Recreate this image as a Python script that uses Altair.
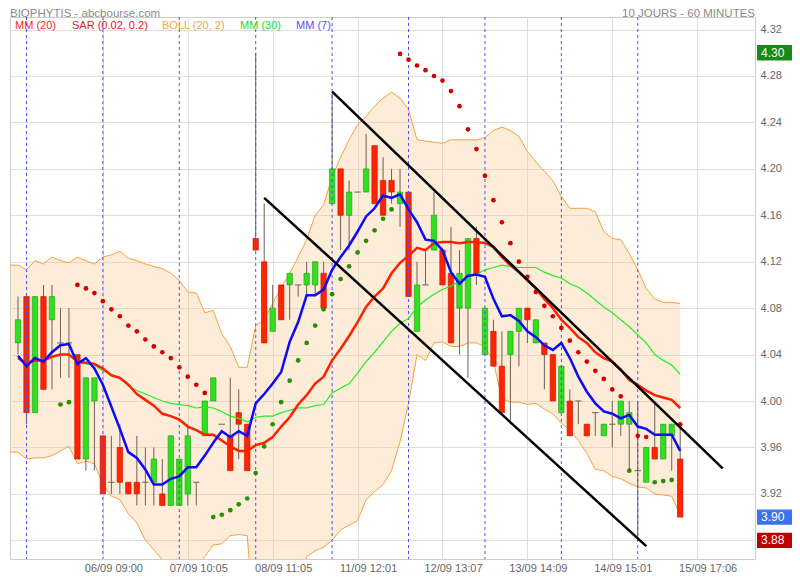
import altair as alt
import pandas as pd

# ---------------- data ----------------
OPEN = [4.05, 4.09, 3.99, 4.09, 4.07, 4.05, 4.05, 4.04, 3.95, 4.00,
        3.97, 3.93, 3.96, 3.93, 3.93, 3.93, 3.93, 3.92, 3.91, 3.91,
        3.92, 3.93, 3.97, 4.00, 3.98, 3.97, 3.99, 3.98, 4.14, 4.12,
        4.06, 4.10, 4.10, 4.10, 4.10, 4.10, 4.11, 4.17, 4.20, 4.16,
        4.18, 4.18, 4.22, 4.19, 4.19, 4.17, 4.18, 4.06, 4.10, 4.13,
        4.13, 4.11, 4.08, 4.08, 4.14, 4.04, 4.06, 4.03, 4.04, 4.06,
        4.08, 4.05, 4.05, 4.04, 3.99, 4.00, 4.00, 3.98, 3.99, 3.97,
        3.98, 3.98, 3.98, 3.94, 3.93, 3.96, 3.95, 3.97, 3.95]
HIGH = [4.09, 4.09, 4.09, 4.10, 4.10, 4.08, 4.08, 4.04, 4.02, 4.02,
        3.97, 3.97, 3.98, 3.93, 3.97, 3.96, 3.96, 3.95, 3.97, 3.95,
        3.98, 3.93, 4.00, 4.02, 3.98, 4.02, 4.01, 3.98, 4.30, 4.17,
        4.10, 4.10, 4.11, 4.10, 4.12, 4.12, 4.12, 4.265, 4.20, 4.19,
        4.18, 4.23, 4.22, 4.21, 4.20, 4.20, 4.18, 4.12, 4.13, 4.18,
        4.13, 4.15, 4.13, 4.14, 4.15, 4.08, 4.07, 4.06, 4.06, 4.08,
        4.08, 4.07, 4.05, 4.04, 4.03, 4.01, 4.00, 3.98, 3.99, 3.98,
        4.00, 4.00, 4.00, 4.00, 3.96, 4.00, 3.98, 3.98, 3.98]
LOW = [4.04, 3.98, 3.99, 4.01, 4.01, 4.02, 4.02, 3.95, 3.94, 3.94,
       3.92, 3.92, 3.92, 3.92, 3.91, 3.91, 3.91, 3.91, 3.91, 3.91,
       3.91, 3.91, 3.97, 4.00, 3.98, 3.94, 3.95, 3.94, 4.13, 4.05,
       4.06, 4.07, 4.07, 4.09, 4.09, 4.09, 4.08, 4.17, 4.13, 4.13,
       4.18, 4.18, 4.17, 4.16, 4.17, 4.15, 4.09, 4.06, 4.10, 4.13,
       4.10, 4.05, 4.04, 4.02, 4.10, 4.04, 4.03, 3.99, 3.98, 4.03,
       4.05, 4.05, 4.01, 4.00, 3.99, 3.97, 3.98, 3.97, 3.97, 3.97,
       3.96, 3.97, 3.94, 3.88, 3.93, 3.95, 3.95, 3.94, 3.90]
CLOSE = [4.07, 3.99, 4.09, 4.01, 4.09, 4.05, 4.05, 3.95, 4.02, 4.02,
         3.92, 3.93, 3.93, 3.92, 3.92, 3.93, 3.95, 3.91, 3.97, 3.95,
         3.97, 3.93, 4.00, 4.02, 3.98, 3.94, 3.98, 3.94, 4.13, 4.05,
         4.08, 4.07, 4.11, 4.10, 4.11, 4.12, 4.08, 4.20, 4.16, 4.18,
         4.18, 4.20, 4.17, 4.16, 4.18, 4.18, 4.09, 4.10, 4.10, 4.16,
         4.10, 4.05, 4.11, 4.14, 4.11, 4.08, 4.03, 3.99, 4.06, 4.08,
         4.07, 4.07, 4.04, 4.00, 4.03, 3.97, 4.00, 3.97, 3.99, 3.98,
         3.98, 4.00, 3.99, 3.94, 3.96, 3.95, 3.98, 3.98, 3.90]

MM7 = [4.039, 4.030, 4.037, 4.034, 4.042, 4.048, 4.049, 4.032, 4.037, 4.028,
       4.014, 3.995, 3.976, 3.956, 3.951, 3.941, 3.928, 3.928, 3.933, 3.935,
       3.943, 3.943, 3.953, 3.964, 3.974, 3.969, 3.974, 3.970, 3.998, 4.006,
       4.015, 4.025, 4.051, 4.068, 4.091, 4.091, 4.096, 4.113, 4.124, 4.134,
       4.146, 4.159, 4.166, 4.177, 4.175, 4.178, 4.165, 4.154, 4.139, 4.138,
       4.130, 4.111, 4.101, 4.108, 4.109, 4.107, 4.088, 4.073, 4.074, 4.069,
       4.060, 4.055, 4.048, 4.044, 4.050, 4.037, 4.021, 4.008, 3.998, 3.991,
       3.989, 3.985, 3.988, 3.978, 3.976, 3.971, 3.971, 3.971, 3.957]
MM20 = [4.037, 4.032, 4.035, 4.035, 4.038, 4.040, 4.040, 4.034, 4.033, 4.032,
        4.028, 4.022, 4.020, 4.014, 4.006, 4.001, 3.996, 3.989, 3.987, 3.984,
        3.978, 3.975, 3.971, 3.971, 3.966, 3.961, 3.957, 3.957, 3.962, 3.964,
        3.969, 3.978, 3.986, 3.997, 4.005, 4.015, 4.021, 4.035, 4.045, 4.056,
        4.068, 4.081, 4.090, 4.097, 4.110, 4.119, 4.125, 4.132, 4.130, 4.136,
        4.137, 4.137, 4.136, 4.137, 4.137, 4.136, 4.133, 4.124, 4.117, 4.111,
        4.104, 4.097, 4.088, 4.080, 4.070, 4.063, 4.055, 4.050, 4.042, 4.037,
        4.034, 4.027, 4.018, 4.014, 4.009, 4.005, 4.003, 4.001, 3.994]
MM30 = [4.038, 4.031, 4.035, 4.036, 4.039, 4.040, 4.040, 4.033, 4.032, 4.031,
        4.026, 4.023, 4.020, 4.013, 4.009, 4.006, 4.003, 4.000, 3.998, 3.997,
        3.996, 3.994, 3.995, 3.994, 3.991, 3.987, 3.985, 3.982, 3.986, 3.987,
        3.987, 3.990, 3.992, 3.994, 3.994, 3.996, 3.997, 4.007, 4.011, 4.015,
        4.024, 4.034, 4.042, 4.051, 4.060, 4.067, 4.071, 4.081, 4.087, 4.092,
        4.096, 4.099, 4.103, 4.107, 4.109, 4.113, 4.115, 4.117, 4.116, 4.115,
        4.115, 4.115, 4.111, 4.108, 4.106, 4.101, 4.098, 4.093, 4.087, 4.081,
        4.076, 4.070, 4.064, 4.057, 4.050, 4.040, 4.035, 4.031, 4.023]

# Bollinger bands, starting one bar before the first candle (index -1)
BOLL_UP = [4.117, 4.117, 4.113, 4.121, 4.118, 4.124, 4.121, 4.119, 4.124, 4.121, 4.118,
           4.124, 4.126, 4.129, 4.123, 4.121, 4.118, 4.116, 4.114, 4.110, 4.104,
           4.094, 4.093, 4.076, 4.078, 4.058, 4.047, 4.029, 4.029, 4.065, 4.070,
           4.084, 4.098, 4.110, 4.124, 4.139, 4.160, 4.169, 4.193, 4.210, 4.225,
           4.238, 4.245, 4.254, 4.261, 4.266, 4.261, 4.251, 4.225, 4.224, 4.223,
           4.222, 4.225, 4.225, 4.225, 4.225, 4.227, 4.233, 4.236, 4.233, 4.228,
           4.215, 4.206, 4.198, 4.190, 4.176, 4.166, 4.166, 4.166, 4.163, 4.146,
           4.140, 4.139, 4.127, 4.113, 4.097, 4.088, 4.085, 4.085, 4.084]
BOLL_LOW = [3.956, 3.956, 3.950, 3.951, 3.951, 3.953, 3.957, 3.961, 3.946, 3.948, 3.946,
            3.928, 3.918, 3.915, 3.903, 3.895, 3.880, 3.872, 3.863, 3.856, 3.852,
            3.852, 3.856, 3.866, 3.876, 3.877, 3.884, 3.885, 3.884, 3.790, 3.760,
            3.760, 3.770, 3.790, 3.820, 3.866, 3.871, 3.874, 3.880, 3.889, 3.893,
            3.897, 3.915, 3.922, 3.928, 3.940, 3.965, 3.998, 4.040, 4.035, 4.050,
            4.051, 4.047, 4.047, 4.050, 4.050, 4.047, 4.034, 4.002, 3.999, 3.999,
            3.997, 3.998, 3.993, 3.989, 3.981, 3.975, 3.966, 3.955, 3.941, 3.940,
            3.935, 3.933, 3.929, 3.926, 3.925, 3.920, 3.919, 3.918, 3.902]

# Parabolic SAR, from bar 5 on ("r" = above price, "g" = below price)
SAR_START = 5
SAR = [3.997, 3.999, 4.100, 4.097, 4.093, 4.086, 4.079, 4.073, 4.065, 4.060,
       4.053, 4.047, 4.042, 4.037, 4.029, 4.021, 4.014, 4.007, 3.900, 3.902,
       3.906, 3.911, 3.916, 3.938, 3.961, 3.980, 3.999, 4.0175, 4.035, 4.050,
       4.065, 4.079, 4.092, 4.105, 4.116, 4.128, 4.138, 4.147, 4.157, 4.165,
       4.299, 4.294, 4.289, 4.285, 4.280, 4.276, 4.267, 4.254, 4.234, 4.217,
       4.194, 4.173, 4.154, 4.136, 4.120, 4.107, 4.094, 4.082, 4.073, 4.063,
       4.052, 4.042, 4.034, 4.026, 4.019, 4.010, 4.004, 3.940, 3.970, 3.969,
       3.930, 3.931, 3.932, 3.980]
SAR_SIDE = ("gg" + "r" * 16 + "g" * 22 + "r" * 27 + "g" + "rr" + "ggg" + "r")

DAY_STARTS = [1, 10, 19, 28, 37, 46, 55, 64, 73]
X_TICKS = [10, 20, 30, 40, 50, 60, 70, 80]
X_LABELS = ["06/09 09:00", "07/09 10:05", "08/09 11:05", "11/09 12:01",
            "12/09 13:07", "13/09 14:09", "14/09 15:01", "15/09 17:06"]
Y_TICKS = [3.88, 3.92, 3.96, 4.00, 4.04, 4.08, 4.12, 4.16, 4.20, 4.24, 4.28, 4.32]

# drawn trend lines: (bar start, price start, bar end, price end)
TREND_I1 = [37, 29]
TREND_P1 = [4.2665, 4.175]
TREND_I2 = [83.0, 74.0]
TREND_P2 = [3.942, 3.875]

MARK_VALUES = [4.30, 3.90, 3.88]
MARK_COLORS = ["#168c16", "#3b72f0", "#bf0000"]

LEGEND_TEXT = ["MM (20)", "SAR (0.02, 0.2)", "BOLL (20, 2)", "MM (30)", "MM (7)"]
LEGEND_COLOR = ["#f02a2a", "#d81e1e", "#f5a545", "#22dd22", "#5252f2"]
LEGEND_X = [5, 62, 152, 230, 286]

# ---------------- tables ----------------
N = len(OPEN)
candles = pd.DataFrame({"i": list(range(N)), "o": OPEN, "h": HIGH, "l": LOW, "c": CLOSE})
candles["kind"] = ["doji" if abs(o - c) < 1e-9 else ("up" if c > o else "down")
                   for o, c in zip(OPEN, CLOSE)]
ma = pd.DataFrame({"i": list(range(N)), "m7": MM7, "m20": MM20, "m30": MM30})
band = pd.DataFrame({"i": list(range(-1, N)), "up": BOLL_UP, "lo": BOLL_LOW})
sar = pd.DataFrame({"i": list(range(SAR_START, SAR_START + len(SAR))), "v": SAR,
                    "side": list(SAR_SIDE)})
days = pd.DataFrame({"i": DAY_STARTS})
trends = pd.DataFrame({"i": TREND_I1, "v": TREND_P1, "i2": TREND_I2, "v2": TREND_P2})
marks = pd.DataFrame({"v": MARK_VALUES, "col": MARK_COLORS,
                      "lab": [f"{v:.2f}" for v in MARK_VALUES]})

FONT = "Liberation Sans"
xs = alt.Scale(domain=[-0.942, 86.81], nice=False, zero=False)
ys = alt.Scale(domain=[3.8639, 4.3308], nice=False, zero=False)

label_expr = "".join(f"datum.value == {p} ? '{s}' : " for p, s in zip(X_TICKS, X_LABELS)) + "''"
x_axis = alt.Axis(values=X_TICKS, labelExpr=label_expr, grid=True, gridColor="#dddddd",
                  ticks=False, domain=False, labelOffset=10.5, labelPadding=3,
                  labelFont=FONT, labelFontSize=11, labelColor="#666666",
                  labelFlush=False, labelOverlap=False, title=None)
y_axis = alt.Axis(orient="right", values=Y_TICKS, grid=True, gridColor="#dddddd",
                  labelExpr="datum.value < 3.9 ? '' : format(datum.value, '.2f')",
                  ticks=False, domain=False, labelPadding=5, labelFont=FONT, labelFontSize=11,
                  labelColor="#666666", labelOverlap=False, title=None)


def X(f="i"):
    return alt.X(f"{f}:Q", scale=xs, axis=x_axis)


def Y(f):
    return alt.Y(f"{f}:Q", scale=ys, axis=y_axis)


layers = []

# Bollinger band
layers.append(alt.Chart(band).mark_area(clip=True, color="#f8c98e", opacity=0.35)
              .encode(x=X(), y=Y("up"), y2="lo:Q"))
for f in ["up", "lo"]:
    layers.append(alt.Chart(band).mark_line(clip=True, color="#f5a23c", strokeWidth=1)
                  .encode(x=X(), y=Y(f)))

# candles
layers.append(alt.Chart(candles).mark_rule(color="#6e6052", strokeWidth=1)
              .encode(x=X(), y=Y("l"), y2="h:Q"))
for kind, fill, stroke in [("up", "#2fe01f", "#1f9a12"), ("down", "#ff2400", "#c21000")]:
    layers.append(alt.Chart(candles).transform_filter(f"datum.kind == '{kind}'")
                  .transform_calculate(xa="datum.i - 0.32", xb="datum.i + 0.32")
                  .mark_rect(fill=fill, stroke=stroke, strokeWidth=0.6)
                  .encode(x=X("xa"), x2="xb:Q", y=Y("o"), y2="c:Q"))
layers.append(alt.Chart(candles).transform_filter("datum.kind == 'doji'")
              .transform_calculate(xa="datum.i - 0.38", xb="datum.i + 0.38")
              .mark_rule(color="#6e6052", strokeWidth=1)
              .encode(x=X("xa"), x2="xb:Q", y=Y("c")))

# day separators
layers.append(alt.Chart(days).mark_rule(color="#4f4fff", strokeDash=[3, 3], strokeWidth=1)
              .encode(x=X()))

# SAR dots
layers.append(alt.Chart(sar).mark_circle(size=22, opacity=1)
              .encode(x=X(), y=Y("v"),
                      color=alt.Color("side:N", scale=alt.Scale(domain=["r", "g"],
                                                                range=["#d40000", "#2a8c00"]),
                                      legend=None)))

# moving averages
layers.append(alt.Chart(ma).mark_line(color="#22ee22", strokeWidth=1.2).encode(x=X(), y=Y("m30")))
layers.append(alt.Chart(ma).mark_line(color="#ff2000", strokeWidth=2.5).encode(x=X(), y=Y("m20")))
layers.append(alt.Chart(ma).mark_line(color="#0a0aff", strokeWidth=2.5).encode(x=X(), y=Y("m7")))

# trend lines
layers.append(alt.Chart(trends).mark_rule(color="#000000", strokeWidth=2.5)
              .encode(x=X(), x2="i2:Q", y=Y("v"), y2="v2:Q"))

# price boxes at the right
layers.append(alt.Chart(marks).transform_calculate(vt="datum.v + 0.0066", vb="datum.v - 0.0066")
              .mark_rect()
              .encode(x=alt.value(747), x2=alt.value(782), y=Y("vt"), y2="vb:Q",
                      color=alt.Color("col:N", scale=None)))
layers.append(alt.Chart(marks).mark_text(align="left", baseline="middle", color="white",
                                         font=FONT, fontSize=12)
              .encode(x=alt.value(751), y=Y("v"), text="lab:N"))

# header texts
one = alt.Data(values=[{"k": 1}])
layers.append(alt.Chart(one).mark_text(align="left", baseline="alphabetic", font=FONT,
                                       fontSize=11.5, color="#8a8a8a")
              .encode(x=alt.value(0), y=alt.value(-0.5),
                      text=alt.value("BIOPHYTIS - abcbourse.com")))
layers.append(alt.Chart(one).mark_text(align="right", baseline="alphabetic", font=FONT,
                                       fontSize=11.5, color="#8a8a8a")
              .encode(x=alt.value(745), y=alt.value(-0.5),
                      text=alt.value("10 JOURS - 60 MINUTES")))
for t, c, px in zip(LEGEND_TEXT, LEGEND_COLOR, LEGEND_X):
    layers.append(alt.Chart(one).mark_text(align="left", baseline="middle", font=FONT,
                                           fontSize=11, color=c)
                  .encode(x=alt.value(px), y=alt.value(9), text=alt.value(t)))

chart = (alt.layer(*layers)
         .properties(width=745, height=542,
                     padding={"left": 2, "top": 9, "right": 37, "bottom": 13},
                     autosize=alt.AutoSizeParams(type="none"))
         .configure_view(stroke="#cccccc"))

chart.save("out.html", embed_options={"renderer": "svg", "actions": False})
